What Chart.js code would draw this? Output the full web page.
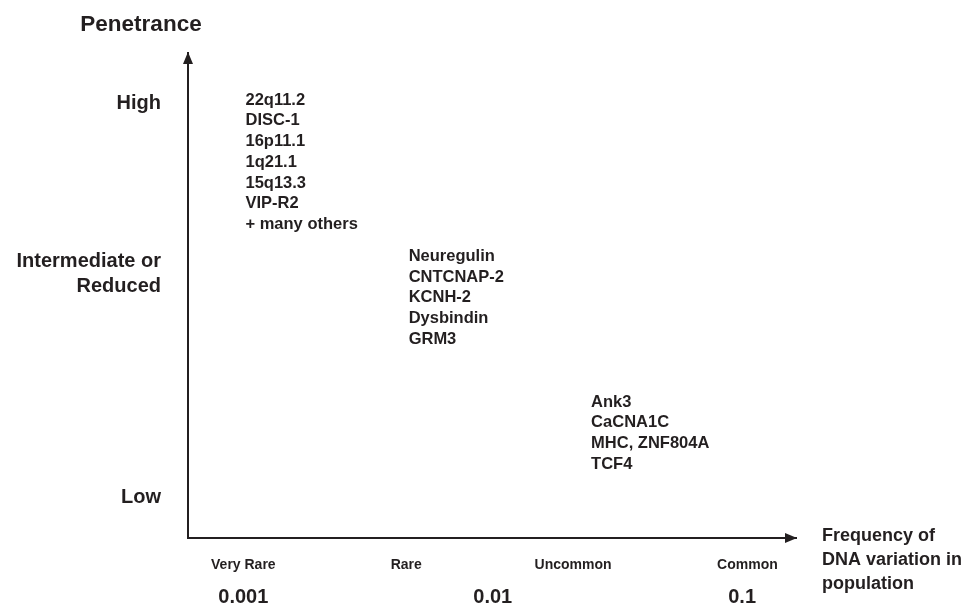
<!DOCTYPE html>
<html><head><meta charset="utf-8">
<script src="https://cdn.jsdelivr.net/npm/chart.js@4.4.0/dist/chart.umd.min.js"></script>
<style>html,body{margin:0;padding:0;background:#fff;} #wrap{width:968px;height:607px;position:relative;}</style>
</head><body><div id="wrap"><canvas id="c"></canvas></div>
<script>
// ---- data ----
const frequencyTicks = [0.001, 0.01, 0.1];
const frequencyLabels = ['0.001', '0.01', '0.1'];
const rarityTicks = [0.001, 0.0045, 0.021, 0.105];
const rarityLabels = ['Very Rare', 'Rare', 'Uncommon', 'Common'];
const penetranceTicks = [0.895, 0.545, 0.083];
const penetranceLabels = ['High', ['Intermediate or', 'Reduced'], 'Low'];
const highGenes = ['22q11.2', 'DISC-1', '16p11.1', '1q21.1', '15q13.3', 'VIP-R2', '+ many others'];
const intermediateGenes = ['Neuregulin', 'CNTCNAP-2', 'KCNH-2', 'Dysbindin', 'GRM3'];
const lowGenes = ['Ank3', 'CaCNA1C', 'MHC, ZNF804A', 'TCF4'];
const groupFrequency = [0.00102, 0.0046, 0.0248];
const groupPenetrance = [0.903, 0.581, 0.280];
const yTitle = 'Penetrance';
const xTitle = ['Frequency of', 'DNA variation in', 'population'];

const INK = '#231f20';
const FAM = '"Liberation Sans", Arial, Helvetica, sans-serif';
Chart.defaults.color = INK;
Chart.defaults.font.family = FAM;

const FMIN = 0.000608, FMAX = 0.1644;

const annot = {
  id: 'annot',
  afterDraw(chart) {
    const ctx = chart.ctx, a = chart.chartArea;
    ctx.save();
    ctx.fillStyle = INK;
    // arrowheads
    ctx.beginPath();
    ctx.moveTo(a.left, a.top - 1);
    ctx.lineTo(a.left - 5, a.top + 11);
    ctx.lineTo(a.left + 5, a.top + 11);
    ctx.closePath(); ctx.fill();
    ctx.beginPath();
    ctx.moveTo(a.right + 1, a.bottom);
    ctx.lineTo(a.right - 11, a.bottom - 5);
    ctx.lineTo(a.right - 11, a.bottom + 5);
    ctx.closePath(); ctx.fill();
    // gene groups
    ctx.font = 'bold 16.5px ' + FAM;
    ctx.textAlign = 'left';
    ctx.textBaseline = 'middle';
    chart.data.datasets.forEach((ds, i) => {
      const pt = chart.getDatasetMeta(i).data[0];
      ds.genes.forEach((g, j) => ctx.fillText(g, pt.x, pt.y + j * 20.75));
    });
    // axis titles
    ctx.font = 'bold 22.5px ' + FAM;
    ctx.textAlign = 'center';
    ctx.fillText(yTitle, a.left - 47, a.top - 28);
    ctx.font = 'bold 18px ' + FAM;
    ctx.textAlign = 'left';
    xTitle.forEach((t, j) => ctx.fillText(t, a.right + 26, a.bottom - 2 + j * 24));
    ctx.restore();
  }
};

new Chart(document.getElementById('c'), {
  type: 'scatter',
  data: {
    datasets: [
      { data: [{ x: groupFrequency[0], y: groupPenetrance[0] }], genes: highGenes },
      { data: [{ x: groupFrequency[1], y: groupPenetrance[1] }], genes: intermediateGenes },
      { data: [{ x: groupFrequency[2], y: groupPenetrance[2] }], genes: lowGenes }
    ]
  },
  options: {
    responsive: true,
    maintainAspectRatio: false,
    animation: false,
    devicePixelRatio: 1,
    elements: { point: { radius: 0, hoverRadius: 0 } },
    layout: { padding: { top: 53, right: 172, bottom: 0, left: 0 } },
    plugins: { legend: { display: false }, tooltip: { enabled: false }, title: { display: false } },
    scales: {
      x: {
        type: 'logarithmic', position: 'bottom', min: FMIN, max: FMAX, weight: 0,
        grid: { display: false },
        border: { display: true, color: INK, width: 2 },
        afterBuildTicks: s => { s.ticks = rarityTicks.map(v => ({ value: v })); },
        afterFit: s => { s.height = 35; },
        ticks: { autoSkip: false, maxRotation: 0, padding: 11, font: { size: 14, weight: 'bold' },
          callback: (v, i) => rarityLabels[i] }
      },
      x2: {
        type: 'logarithmic', position: 'bottom', min: FMIN, max: FMAX, weight: 1,
        grid: { display: false },
        border: { display: false },
        afterBuildTicks: s => { s.ticks = frequencyTicks.map(v => ({ value: v })); },
        afterFit: s => { s.height = 34; },
        ticks: { autoSkip: false, maxRotation: 0, padding: 4, font: { size: 20, weight: 'bold' },
          callback: (v, i) => frequencyLabels[i] }
      },
      y: {
        type: 'linear', min: 0, max: 1,
        grid: { display: false },
        border: { display: true, color: INK, width: 2 },
        afterBuildTicks: s => { s.ticks = penetranceTicks.map(v => ({ value: v })); },
        afterFit: s => { s.width = 188; },
        ticks: { autoSkip: false, padding: 19, font: { size: 20, weight: 'bold', lineHeight: 1.25 },
          callback: (v, i) => penetranceLabels[i] }
      }
    }
  },
  plugins: [annot]
});
</script>
</body></html>
